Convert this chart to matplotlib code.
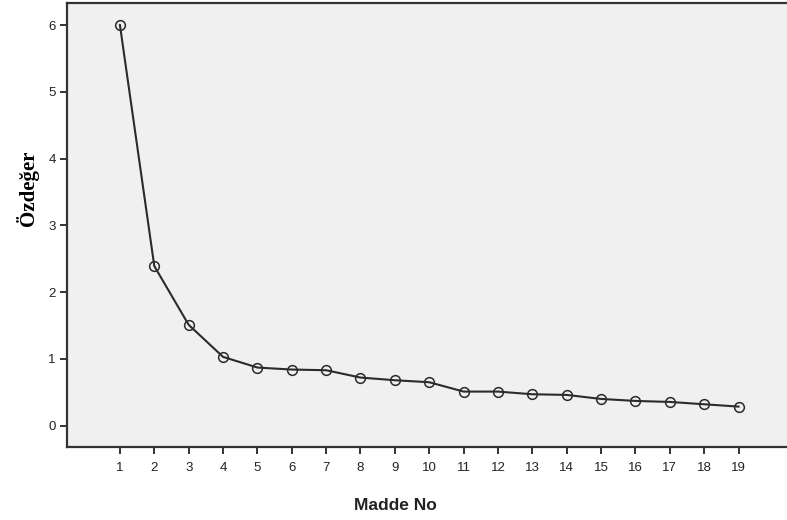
import matplotlib
matplotlib.use("Agg")
import matplotlib.pyplot as plt

# scree plot values
madde = list(range(1, 20))
ozdeger = [6.00, 2.39, 1.51, 1.03, 0.87, 0.84, 0.83, 0.72, 0.68, 0.65,
           0.51, 0.51, 0.47, 0.46, 0.40, 0.37, 0.355, 0.32, 0.285]
y_ticks = [0, 1, 2, 3, 4, 5, 6]

fig = plt.figure(figsize=(7.87, 5.20), dpi=100)
ax = fig.add_axes([67/787, 1 - 447/520, 720/787, 444/520])
ax.set_facecolor('#f0f0f0')

ax.plot(madde, ozdeger, color='#2b2b2b', lw=1.5, marker='o', ms=7,
        mfc='none', mec='#2b2b2b', mew=1.1)

ax.set_xlim(-0.54, 20.41)
ax.set_ylim(-0.32, 6.33)
ax.set_xticks(madde)
ax.set_yticks(y_ticks)

for s in ['left', 'bottom', 'top']:
    ax.spines[s].set_color('#333333')
    ax.spines[s].set_linewidth(1.6)
ax.spines['right'].set_visible(False)

ax.tick_params(direction='out', length=5, width=1.4, color='#333333',
               labelsize=9.5, labelcolor='#222222', pad=3)
ax.tick_params(axis='x', pad=6)
for lbl in ax.get_xticklabels() + ax.get_yticklabels():
    lbl.set_family('Liberation Sans')

fig.text(395/787, 1 - 505/520, 'Madde No', ha='center', va='center',
         fontsize=12.5, fontweight='bold', family='Liberation Sans', color='#222222')
fig.text(27/787, 1 - 188/520, 'Özdeğer', ha='center', va='center', rotation=90,
         fontsize=15, fontweight='bold', family='Liberation Serif', color='black')

fig.savefig('out.png', dpi=100)
